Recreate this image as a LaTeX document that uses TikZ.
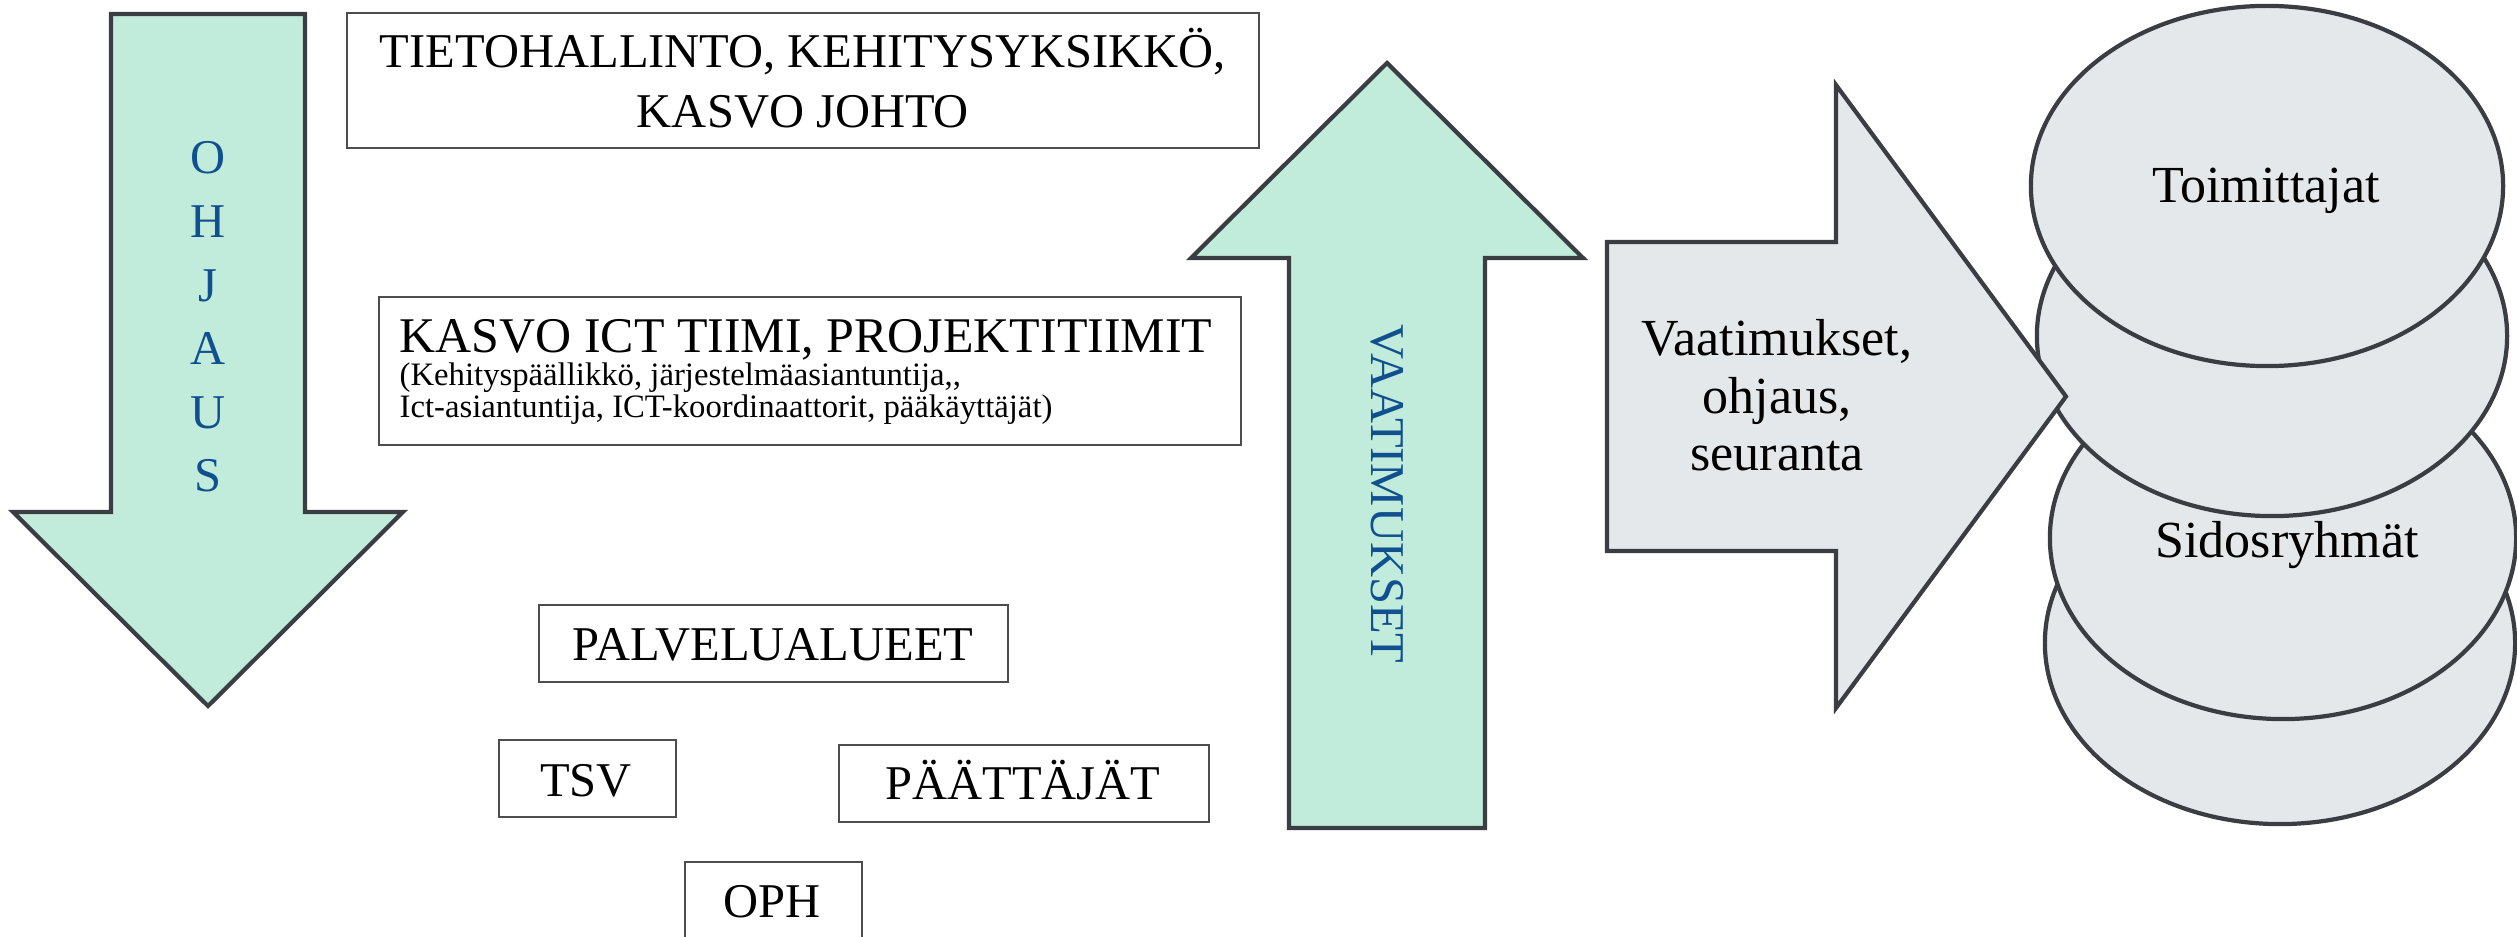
\documentclass[tikz,border=0pt]{standalone}
\usepackage{fontspec}
\setmainfont{Liberation Serif}
\usetikzlibrary{shapes.geometric}
\definecolor{mint}{HTML}{C1EBDB}
\definecolor{paleg}{HTML}{E4E8EB}
\definecolor{edgec}{HTML}{3A3E43}
\definecolor{boxc}{HTML}{4D4D4D}
\definecolor{bluet}{HTML}{11508F}
\begin{document}
\begin{tikzpicture}[x=0.01cm,y=-0.01cm,
  bigarrow/.style={draw=edgec,line width=1.2pt,line join=miter,miter limit=10},
  boxn/.style={draw=boxc,line width=0.6pt,inner sep=0pt,fill=white},
  lbl/.style={inner sep=0pt,anchor=base},
  lblw/.style={inner sep=0pt,anchor=base west},
  ell/.style={ellipse,draw=edgec,line width=1.2pt,fill=paleg,inner sep=0pt},
  fA/.style={font=\fontsize{13.8}{16}\selectfont},
  fB/.style={font=\fontsize{9.3}{9}\selectfont},
  fC/.style={font=\fontsize{14.8}{17}\selectfont}]
\useasboundingbox (0,0) rectangle (2517,937);
\clip (0,0) rectangle (2517,937);

% OHJAUS arrow (down)
\draw[bigarrow,fill=mint] (111,14) -- (305,14) -- (305,512) -- (403,512)
  -- (208,706) -- (13,512) -- (111,512) -- cycle;
\foreach \c [count=\i from 0] in {O,H,J,A,U,S}
  \node[lbl,fA,text=bluet] (ohj\i) at (208,{174+63.6*\i}) {\c};

% boxes
\node[boxn,minimum width=9.12cm,minimum height=1.35cm] (b1) at (803,80.5) {};
\node[lbl,fA] (b1a) at (803,68) {TIETOHALLINTO, KEHITYSYKSIKKÖ,};
\node[lbl,fA] (b1b) at (803,128) {KASVO JOHTO};

\node[boxn,minimum width=8.62cm,minimum height=1.48cm] (b2) at (810,371) {};
\node[lblw,font=\fontsize{14.2}{16}\selectfont] (b2a) at (399,353) {KASVO ICT TIIMI, PROJEKTITIIMIT};
\node[lblw,fB] (b2b) at (399,386) {(Kehityspäällikkö, järjestelmäasiantuntija,{},};
\node[lblw,fB] (b2c) at (399,418) {Ict-asiantuntija, ICT-koordinaattorit, pääkäyttäjät)};

\node[boxn,minimum width=4.69cm,minimum height=0.77cm] (b3) at (773.5,643.5) {};
\node[lbl,fA] (b3t) at (773,661) {PALVELUALUEET};
\node[boxn,minimum width=1.77cm,minimum height=0.77cm] (b4) at (587.5,778.5) {};
\node[lbl,fA] (b4t) at (586,797) {TSV};
\node[boxn,minimum width=3.70cm,minimum height=0.77cm] (b5) at (1024,783.5) {};
\node[lbl,fA] (b5t) at (1023,800) {PÄÄTTÄJÄT};
\node[boxn,minimum width=1.77cm,minimum height=0.77cm] (b6) at (773.5,900.5) {};
\node[lbl,fA] (b6t) at (772,917) {OPH};

% VAATIMUKSET arrow (up)
\draw[bigarrow,fill=mint] (1289,828) -- (1289,258) -- (1191,258) -- (1387,63)
  -- (1583,258) -- (1485,258) -- (1485,828) -- cycle;
\node[fA,text=bluet,inner sep=0pt,rotate=-90] (vaat) at (1387,494) {VAATIMUKSET};

% ellipses (bottom first)
\node[ell,minimum width=4.70cm,minimum height=3.62cm] (e4) at (2280,643) {};
\node[ell,minimum width=4.66cm,minimum height=3.62cm] (e3) at (2283,538) {};
\node[ell,minimum width=4.70cm,minimum height=3.60cm] (e2) at (2272,336) {};
\node[ell,minimum width=4.72cm,minimum height=3.60cm] (e1) at (2267,186) {};
\node[lbl,fC] (e1t) at (2266,203) {Toimittajat};
\node[lbl,fC] (e3t) at (2287,558) {Sidosryhmät};

% grey arrow (right)
\draw[bigarrow,fill=paleg] (1607,242) -- (1836,242) -- (1836,85) -- (2066,396.5)
  -- (1836,708) -- (1836,551) -- (1607,551) -- cycle;
\node[lbl,fC] (g1) at (1777,356) {Vaatimukset,};
\node[lbl,fC] (g2) at (1777,414) {ohjaus,};
\node[lbl,fC] (g3) at (1777,471) {seuranta};
\end{tikzpicture}
\end{document}
